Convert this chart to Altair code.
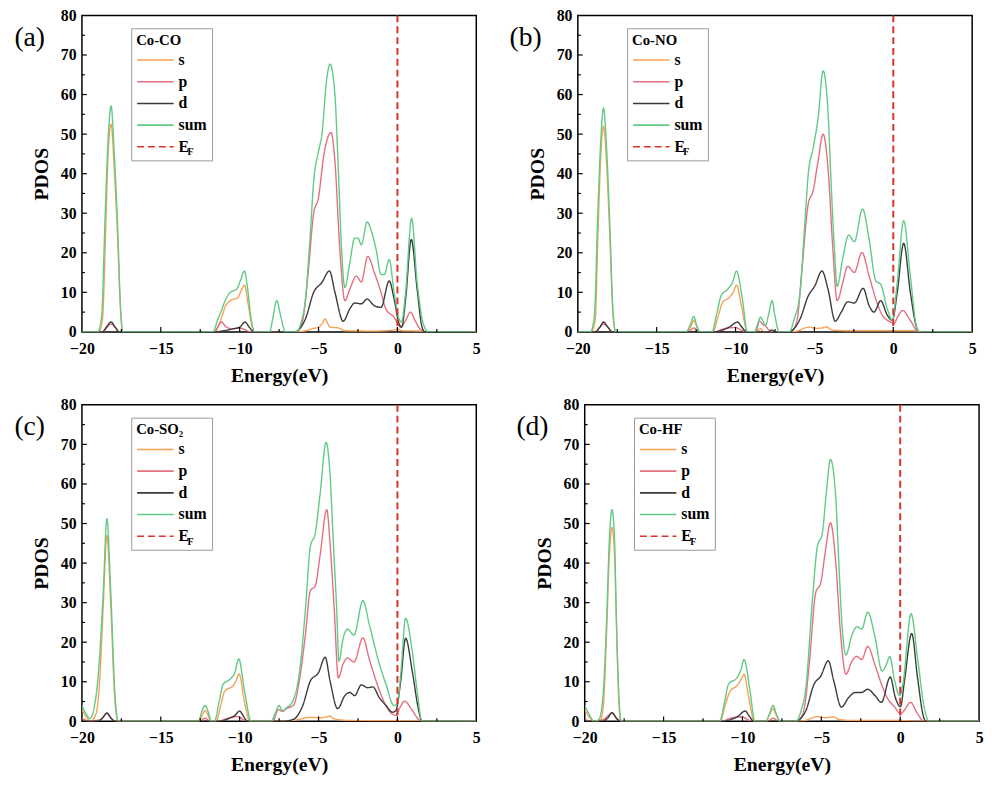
import altair as alt
import pandas as pd

SERIES = ["s", "p", "d", "sum", "E_F"]
COLORS = ["#F4A256", "#E4707F", "#3A3A3A", "#62C986", "#D9312B"]
DASHES = [[1, 0], [1, 0], [1, 0], [1, 0], [7, 4]]

X_MAJOR = [-20, -15, -10, -5, 0, 5]
X_MINOR = [-17.5, -12.5, -7.5, -2.5, 2.5]
Y_MAJOR = [0, 10, 20, 30, 40, 50, 60, 70, 80]
Y_MINOR = [5, 15, 25, 35, 45, 55, 65, 75]

# ---------------- panel (a) Co-CO ----------------
A_S = [(-20, 0), (-18.95, 0), (-18.7, 3), (-18.5, 25), (-18.35, 44), (-18.15, 52.5), (-17.95, 41), (-17.75, 25), (-17.55, 5), (-17.4, 0),
       (-11.6, 0), (-11.2, 3), (-10.9, 6.5), (-10.6, 7.9), (-10.1, 8.7), (-9.9, 10.5), (-9.69, 11.8), (-9.5, 8), (-9.3, 3), (-9.05, 0),
       (-6.4, 0), (-5.8, 0.3), (-5.42, 0.8), (-5.0, 1.2), (-4.75, 2.2), (-4.58, 3.3), (-4.4, 2), (-4.27, 1.2), (-3.75, 1.0), (-3.33, 0.3),
       (-1.5, 0.2), (-0.2, 0.5), (0.0, 0.8), (0.3, 0.3), (1.5, 0.2), (2.0, 0), (5, 0)]
A_P = [(-20, 0), (-18.7, 0), (-18.4, 1.2), (-18.15, 2.0), (-17.9, 1.2), (-17.6, 0),
       (-11.6, 0), (-11.35, 1.5), (-11.15, 2.5), (-10.9, 1.4), (-10.5, 0.8), (-10.0, 1.0), (-9.8, 0.8), (-9.3, 0),
       (-6.4, 0), (-6.0, 3), (-5.62, 16.6), (-5.31, 30), (-5.0, 34), (-4.69, 44), (-4.21, 50.4), (-3.96, 43), (-3.65, 20.8), (-3.33, 7.9),
       (-3.02, 10.8), (-2.6, 14.1), (-2.29, 12.6), (-1.88, 19.1), (-1.46, 15), (-1.04, 10), (-0.73, 5.8), (-0.21, 3.7), (0.2, 1.2),
       (0.52, 2.9), (0.83, 5), (1.1, 3), (1.35, 1.2), (1.77, 0), (5, 0)]
A_D = [(-20, 0), (-18.7, 0), (-18.45, 1.2), (-18.15, 2.5), (-17.9, 1.2), (-17.65, 0),
       (-11.6, 0), (-11.0, 0.3), (-10.5, 0.7), (-10.0, 1.2), (-9.65, 2.5), (-9.4, 1.2), (-9.05, 0),
       (-6.5, 0), (-6.2, 0.8), (-5.83, 3.3), (-5.31, 10), (-4.79, 12.5), (-4.31, 15.4), (-3.96, 10), (-3.44, 2.7), (-3.02, 5.8),
       (-2.71, 7.3), (-2.29, 7.1), (-1.92, 8.3), (-1.46, 6.6), (-1.04, 6.2), (-0.52, 12.9), (-0.21, 8.3), (0.1, 2.1), (0.27, 1.2),
       (0.52, 8.3), (0.88, 23.4), (1.25, 10.8), (1.56, 1.2), (1.75, 0), (5, 0)]
A_SUM = [(-20, 0), (-19.0, 0), (-18.75, 4), (-18.54, 28), (-18.35, 48), (-18.15, 57.1), (-17.95, 45), (-17.75, 28), (-17.55, 6), (-17.4, 0),
         (-11.7, 0), (-11.4, 3), (-11.15, 5.5), (-10.85, 8.5), (-10.6, 10), (-10.2, 10.8), (-9.95, 13), (-9.7, 15.4), (-9.5, 11), (-9.3, 4), (-9.05, 0),
         (-8.1, 0), (-7.9, 3.5), (-7.65, 7.9), (-7.4, 4), (-7.1, 0),
         (-6.4, 0), (-6.1, 2.5), (-5.83, 8.3), (-5.52, 25), (-5.31, 38), (-5.0, 45.7), (-4.79, 49.8), (-4.48, 64), (-4.27, 67.7), (-3.96, 59.8),
         (-3.75, 41.5), (-3.54, 20.8), (-3.33, 11.2), (-3.02, 17.4), (-2.71, 23.7), (-2.5, 23.7), (-2.29, 22), (-1.92, 27.8), (-1.67, 25.7),
         (-1.35, 20.8), (-1.04, 14.5), (-0.83, 14.5), (-0.52, 18.3), (-0.21, 10), (0.1, 3.3), (0.25, 2.5), (0.52, 10), (0.9, 28.7),
         (1.25, 12.5), (1.67, 1.7), (1.98, 0), (5, 0)]

# ---------------- panel (b) Co-NO ----------------
B_S = [(-20, 0), (-19.15, 0), (-18.9, 3), (-18.72, 25), (-18.55, 44), (-18.37, 52), (-18.17, 42), (-17.98, 25), (-17.78, 5), (-17.6, 0),
       (-13.1, 0), (-12.85, 1.2), (-12.65, 2.9), (-12.45, 1.2), (-12.25, 0),
       (-11.45, 0), (-11.1, 4), (-10.82, 7.5), (-10.4, 8.7), (-10.15, 10), (-9.94, 11.8), (-9.6, 6), (-9.25, 0),
       (-8.7, 0), (-8.42, 0.8), (-8.2, 0),
       (-6.5, 0), (-6.0, 0.3), (-5.6, 1.0), (-5.3, 1.2), (-4.9, 0.9), (-4.5, 1.0), (-4.25, 1.3), (-3.9, 0.5), (-3.0, 0.3), (1.5, 0.3), (1.8, 0), (5, 0)]
B_P = [(-20, 0), (-18.9, 0), (-18.6, 1.2), (-18.37, 2.0), (-18.1, 1.2), (-17.8, 0),
       (-13.0, 0), (-12.65, 1.0), (-12.3, 0),
       (-11.3, 0), (-10.9, 0.6), (-10.5, 1.0), (-10.0, 1.1), (-9.7, 0.6), (-9.3, 0),
       (-8.7, 0), (-8.5, 2.7), (-8.25, 1.8), (-8.1, 1.5), (-7.9, 0.5), (-7.7, 0),
       (-6.5, 0), (-6.1, 3), (-5.81, 15), (-5.39, 32.4), (-5.08, 35.7), (-4.77, 43.2), (-4.45, 50), (-4.14, 41.5), (-3.83, 20.8), (-3.56, 7.9),
       (-3.2, 12.5), (-2.89, 16.6), (-2.47, 15), (-1.99, 20.1), (-1.53, 14.1), (-1.11, 8.3), (-0.69, 4.2), (-0.17, 2.5), (0.04, 2.1),
       (0.3, 4), (0.6, 5.4), (1.08, 2.9), (1.6, 0), (5, 0)]
B_D = [(-20, 0), (-18.9, 0), (-18.6, 1.2), (-18.37, 2.5), (-18.1, 1.2), (-17.8, 0),
       (-11.4, 0), (-10.8, 0.5), (-10.4, 1.2), (-9.88, 2.5), (-9.6, 1.2), (-9.3, 0),
       (-7.9, 0), (-7.7, 0.5), (-7.5, 0),
       (-6.6, 0), (-6.3, 0.8), (-5.91, 3.3), (-5.39, 9.1), (-4.98, 11.6), (-4.52, 15.4), (-4.14, 10.8), (-3.68, 2.7), (-3.3, 5),
       (-2.89, 7.6), (-2.47, 7.3), (-1.91, 11), (-1.53, 6.6), (-1.22, 5), (-0.8, 7.9), (-0.38, 4.2), (-0.06, 2.9), (0.25, 10),
       (0.66, 22.4), (1.08, 10), (1.5, 0.8), (1.65, 0), (5, 0)]
B_SUM = [(-20, 0), (-19.2, 0), (-18.95, 4), (-18.75, 28), (-18.55, 48), (-18.37, 56.6), (-18.17, 46), (-17.98, 28), (-17.78, 6), (-17.6, 0),
         (-13.15, 0), (-12.9, 1.5), (-12.65, 3.9), (-12.45, 1.5), (-12.25, 0),
         (-11.5, 0), (-11.2, 4.5), (-10.92, 9.1), (-10.5, 10.8), (-10.19, 12.5), (-9.94, 15.4), (-9.57, 8.3), (-9.25, 0),
         (-8.8, 0), (-8.6, 2), (-8.42, 3.7), (-8.1, 1.7), (-7.9, 4.5), (-7.69, 7.9), (-7.5, 4), (-7.25, 0),
         (-6.6, 0), (-6.3, 3), (-5.91, 10), (-5.6, 28), (-5.39, 40), (-5.08, 46.5), (-4.77, 54), (-4.45, 66), (-4.14, 55.6), (-3.93, 36.5),
         (-3.72, 20), (-3.56, 11.5), (-3.2, 18.7), (-2.83, 24.5), (-2.47, 22.8), (-1.95, 31.1), (-1.53, 23.3), (-1.11, 12.9), (-0.8, 12),
         (-0.38, 5.8), (-0.06, 2.9), (0.25, 12.5), (0.66, 28.1), (1.08, 14.1), (1.5, 0.8), (1.65, 0), (5, 0)]

# ---------------- panel (c) Co-SO2 ----------------
C_S = [(-20, 3), (-19.7, 1), (-19.45, 0), (-19.1, 2), (-18.9, 9), (-18.65, 29), (-18.42, 47), (-18.17, 29), (-17.92, 6), (-17.7, 0),
       (-12.55, 0), (-12.38, 1.5), (-12.19, 2.7), (-12.0, 1.5), (-11.85, 0),
       (-11.5, 0), (-11.2, 4), (-10.94, 7.7), (-10.42, 9), (-10.2, 10.5), (-10.04, 12), (-9.7, 5), (-9.35, 0),
       (-7.0, 0), (-6.5, 0.3), (-5.5, 1.0), (-4.9, 0.9), (-4.5, 1.1), (-4.3, 1.3), (-4.0, 0.6), (-3.0, 0.2), (1.5, 0.1), (5, 0)]
C_P = [(-20, 0.8), (-19.5, 0), (-18.8, 0.5), (-18.42, 2.0), (-18.1, 0.5), (-17.8, 0),
       (-12.5, 0), (-12.2, 0.8), (-11.9, 0),
       (-11.4, 0), (-10.9, 0.6), (-10.5, 1.0), (-10.1, 1.2), (-9.8, 0.5), (-9.5, 0),
       (-7.9, 0), (-7.55, 3), (-7.3, 2.5), (-7.0, 3.3), (-6.6, 4), (-6.15, 12), (-5.83, 22), (-5.52, 33), (-5.21, 34.2), (-4.9, 42),
       (-4.48, 53.5), (-4.27, 45), (-4.0, 28), (-3.75, 11), (-3.44, 14.5), (-3.17, 16), (-2.75, 15), (-2.19, 21.1), (-1.77, 15.5),
       (-1.25, 9), (-0.73, 4), (-0.31, 1.8), (-0.1, 1.5), (0.1, 3), (0.46, 5.1), (0.9, 3), (1.4, 0.3), (1.6, 0), (5, 0)]
C_D = [(-20, 0), (-19.0, 0), (-18.7, 0.8), (-18.42, 2.1), (-18.15, 0.8), (-17.9, 0),
       (-11.3, 0), (-10.7, 0.7), (-10.3, 1.5), (-10.0, 2.6), (-9.75, 1.2), (-9.5, 0),
       (-7.3, 0), (-6.6, 0.5), (-6.0, 4), (-5.52, 10.2), (-5.0, 12.3), (-4.58, 16.2), (-4.27, 10.2), (-3.79, 3.2), (-3.33, 6.5),
       (-3.02, 7.3), (-2.71, 6.5), (-2.29, 9.2), (-1.88, 8.5), (-1.56, 8.7), (-1.15, 6), (-0.73, 4), (-0.31, 2.3), (-0.1, 2.7),
       (0.21, 10.2), (0.52, 21), (0.94, 12.7), (1.35, 2.7), (1.55, 0), (5, 0)]
C_SUM = [(-20, 4), (-19.75, 2), (-19.48, 0.7), (-19.2, 4), (-18.96, 11.9), (-18.65, 32.6), (-18.42, 51.2), (-18.17, 32.6), (-17.92, 7.7), (-17.7, 0),
         (-12.6, 0), (-12.4, 2.5), (-12.19, 4), (-12.0, 2.5), (-11.8, 0),
         (-11.6, 0), (-11.3, 5), (-11.04, 9.4), (-10.63, 10.6), (-10.31, 12.3), (-10.06, 15.8), (-9.69, 7.7), (-9.27, 0),
         (-8.0, 0), (-7.75, 2), (-7.5, 4), (-7.3, 2.7), (-6.98, 3.6), (-6.67, 4.8), (-6.15, 14.3), (-5.83, 28.4), (-5.52, 44.2),
         (-5.21, 47.5), (-4.9, 57.5), (-4.52, 70.5), (-4.27, 62.4), (-4.06, 45), (-3.85, 28.4), (-3.71, 15.2), (-3.44, 21), (-3.17, 23.3),
         (-2.75, 21.8), (-2.19, 30.5), (-1.77, 24.3), (-1.25, 16), (-0.73, 9.4), (-0.21, 4), (0.0, 4.4), (0.21, 11.9), (0.52, 26),
         (0.94, 17.7), (1.25, 7.7), (1.56, 0), (5, 0)]

# ---------------- panel (d) Co-HF ----------------
D_S = [(-20, 3), (-19.7, 1), (-19.4, 0), (-19.0, 0.3), (-18.8, 5), (-18.6, 24), (-18.45, 41), (-18.27, 49), (-18.1, 41), (-18.0, 27), (-17.85, 6), (-17.7, 0),
       (-11.4, 0), (-11.1, 4), (-10.77, 7.7), (-10.35, 9), (-10.1, 10.5), (-9.9, 11.9), (-9.6, 6), (-9.25, 0),
       (-8.5, 0), (-8.3, 1.5), (-8.06, 3.2), (-7.85, 1.5), (-7.6, 0),
       (-6.3, 0), (-5.8, 0.5), (-5.5, 1.0), (-5.2, 1.2), (-4.8, 0.9), (-4.2, 1.1), (-3.9, 0.5), (-3.0, 0.2), (0.0, 0.2), (1.0, 0), (5, 0)]
D_P = [(-20, 0.5), (-19.5, 0), (-18.8, 0.5), (-18.27, 2.0), (-17.9, 0.5), (-17.7, 0),
       (-11.3, 0), (-10.9, 0.6), (-10.5, 1.0), (-10.0, 1.1), (-9.7, 0.5), (-9.4, 0),
       (-8.4, 0), (-8.06, 0.8), (-7.7, 0),
       (-6.5, 0), (-6.1, 3), (-5.77, 14.3), (-5.35, 32.6), (-5.04, 35), (-4.73, 43.4), (-4.42, 50.2), (-4.1, 40.9), (-3.79, 22.6),
       (-3.44, 11.9), (-3.06, 15.2), (-2.75, 16.4), (-2.44, 15.6), (-2.06, 18.9), (-1.6, 14.3), (-1.19, 9.4), (-0.77, 5.6),
       (-0.35, 3.6), (0.02, 1.9), (0.3, 3), (0.65, 4.8), (1.1, 1.9), (1.52, 0), (5, 0)]
D_D = [(-20, 0), (-18.9, 0), (-18.55, 0.8), (-18.27, 2.2), (-18.0, 0.8), (-17.7, 0),
       (-11.3, 0), (-10.7, 0.5), (-10.3, 1.2), (-9.83, 2.6), (-9.55, 1.2), (-9.3, 0),
       (-6.6, 0), (-6.3, 0.8), (-5.98, 2.7), (-5.46, 9.4), (-5.04, 11.4), (-4.56, 15.3), (-4.21, 10.2), (-3.73, 3.6), (-3.27, 6),
       (-2.85, 7.3), (-2.44, 7.3), (-2.06, 8.1), (-1.6, 6.5), (-1.19, 4.8), (-0.63, 11.2), (-0.31, 6), (0.02, 3.7), (0.27, 10.2),
       (0.73, 22.2), (1.1, 11), (1.48, 1.1), (1.65, 0), (5, 0)]
D_SUM = [(-20, 4), (-19.75, 2), (-19.4, 0), (-19.1, 0.5), (-18.85, 6), (-18.6, 27), (-18.45, 45), (-18.27, 53.5), (-18.1, 45), (-18.02, 30), (-17.85, 8), (-17.69, 0),
         (-11.45, 0), (-11.15, 4.5), (-10.88, 9.4), (-10.35, 11), (-10.1, 13), (-9.9, 15.6), (-9.52, 7.7), (-9.21, 0),
         (-8.5, 0), (-8.3, 1.8), (-8.06, 4), (-7.85, 1.8), (-7.6, 0),
         (-6.6, 0), (-6.3, 2.5), (-5.98, 8.5), (-5.56, 31), (-5.25, 44.2), (-4.94, 47.5), (-4.69, 57.5), (-4.42, 66.2), (-4.1, 57.5),
         (-3.9, 40.9), (-3.69, 24.3), (-3.44, 16.8), (-3.06, 21.8), (-2.75, 23.9), (-2.44, 23.3), (-2.06, 27.6), (-1.6, 21.4),
         (-1.15, 12.7), (-0.88, 14.3), (-0.67, 16.4), (-0.35, 10.2), (-0.04, 6.5), (0.17, 9.4), (0.69, 27.2), (1.1, 16), (1.52, 3.6),
         (1.83, 0), (5, 0)]

PANELS = [
    ("(a)", "Co-CO", A_S, A_P, A_D, A_SUM),
    ("(b)", "Co-NO", B_S, B_P, B_D, B_SUM),
    ("(c)", "Co-SO\u2082", C_S, C_P, C_D, C_SUM),
    ("(d)", "Co-HF", D_S, D_P, D_D, D_SUM),
]

FONT = "Liberation Serif"
W, H = 400, 321


def make_panel(tag, name, s, p, d, tot):
    rows = []
    for ser, pts in (("s", s), ("p", p), ("d", d), ("sum", tot)):
        rows += [{"energy": e, "value": v, "series": ser} for e, v in pts]
    df = pd.DataFrame(rows)

    xenc = alt.X("energy:Q", scale=alt.Scale(domain=[-20, 5], nice=False, zero=False),
                 axis=alt.Axis(title="Energy(eV)", values=X_MAJOR, labelFlush=False, labelPadding=9,
                               titlePadding=9, format="d"))
    yenc = alt.Y("value:Q", scale=alt.Scale(domain=[0, 80], nice=False),
                 axis=alt.Axis(title="PDOS", values=Y_MAJOR, labelFlush=False, labelPadding=6,
                               titlePadding=9, format="d"))
    leg = alt.Legend(title=name, orient="none", legendX=50, legendY=13, direction="vertical",
                     symbolType="stroke", symbolSize=1369, symbolStrokeWidth=1.6, clipHeight=16.5,
                     rowPadding=5, labelOffset=4, padding=5, strokeColor="#9a9a9a",
                     labelFont=FONT, labelFontSize=16, labelFontWeight="bold", labelColor="black",
                     titleFont=FONT, titleFontSize=15, titleFontWeight="bold", titleColor="black",
                     titlePadding=4, labelExpr="datum.label == 'E_F' ? 'E' : datum.label")
    color = alt.Color("series:N", scale=alt.Scale(domain=SERIES, range=COLORS), legend=leg)
    dash = alt.StrokeDash("series:N", scale=alt.Scale(domain=SERIES, range=DASHES), legend=leg)

    lines = alt.Chart(df).mark_line(strokeWidth=1.4, interpolate="monotone", clip=True).encode(
        x=xenc, y=yenc, color=color, strokeDash=dash)
    ef = alt.Chart(pd.DataFrame({"energy": [0.0], "series": ["E_F"]})).mark_rule(strokeWidth=2).encode(
        x=xenc, color=color, strokeDash=dash)
    xt_major = alt.Chart(pd.DataFrame({"energy": X_MAJOR[1:-1]})).mark_rule(color="black", strokeWidth=1.2).encode(
        x=xenc, y=alt.value(H), y2=alt.value(H - 5))
    xt_minor = alt.Chart(pd.DataFrame({"energy": X_MINOR})).mark_rule(color="black", strokeWidth=1.2).encode(
        x=xenc, y=alt.value(H), y2=alt.value(H - 3))
    yt_major = alt.Chart(pd.DataFrame({"value": Y_MAJOR[1:-1]})).mark_rule(color="black", strokeWidth=1.2).encode(
        y=yenc, x=alt.value(0), x2=alt.value(5))
    yt_minor = alt.Chart(pd.DataFrame({"value": Y_MINOR})).mark_rule(color="black", strokeWidth=1.2).encode(
        y=yenc, x=alt.value(0), x2=alt.value(3))
    tag_t = alt.Chart(pd.DataFrame({"t": [tag]})).mark_text(
        font=FONT, fontSize=28, align="center", baseline="middle", color="black").encode(
        text="t:N", x=alt.value(-53), y=alt.value(23))
    sub_t = alt.Chart(pd.DataFrame({"t": ["F"]})).mark_text(
        font=FONT, fontSize=10, fontWeight="bold", align="left", baseline="middle", color="black").encode(
        text="t:N", x=alt.value(107), y=alt.value(139))
    return alt.layer(lines, ef, xt_major, xt_minor, yt_major, yt_minor, tag_t, sub_t).properties(width=W, height=H)


charts = [make_panel(*p) for p in PANELS]

row1 = alt.hconcat(charts[0], charts[1], spacing=103, bounds="flush").resolve_scale(
    color="independent", strokeDash="independent").resolve_legend(color="independent", strokeDash="independent")
row2 = alt.hconcat(charts[2], charts[3], spacing=110, bounds="flush").resolve_scale(
    color="independent", strokeDash="independent").resolve_legend(color="independent", strokeDash="independent")

chart = alt.vconcat(row1, row2, spacing=10).resolve_scale(
    color="independent", strokeDash="independent").resolve_legend(
    color="independent", strokeDash="independent").properties(
    padding={"left": 5, "top": -7, "right": 0, "bottom": 0}, background="white"
).configure_view(stroke="black", strokeWidth=1.5).configure_axis(
    domain=False, ticks=False, tickSize=0, grid=False,
    labelFont=FONT, labelFontSize=16, labelFontWeight="bold", labelColor="black",
    titleFont=FONT, titleFontSize=20, titleFontWeight="bold", titleColor="black",
)

chart.save("out.html", embed_options={"renderer": "svg", "actions": False})
